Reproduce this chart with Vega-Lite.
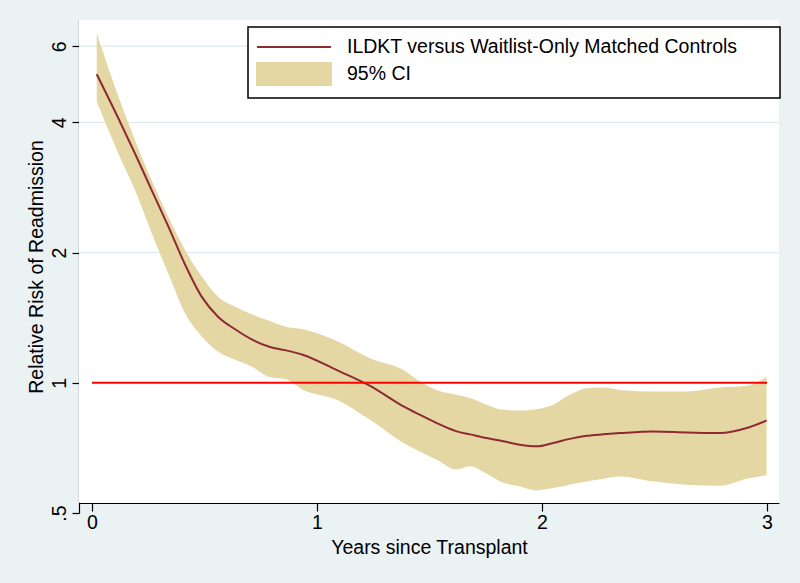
{
  "$schema": "https://vega.github.io/schema/vega-lite/v6.json",
  "width": 700,
  "height": 493,
  "autosize": "none",
  "padding": {"left": 79, "top": 20, "right": 21, "bottom": 70},
  "background": "#eaf2f3",
  "config": {
    "view": {"stroke": null, "fill": null},
    "font": "Liberation Sans",
    "axis": {
      "domainColor": "#000000",
      "domainWidth": 1.2,
      "tickColor": "#000000",
      "tickWidth": 1.2,
      "labelColor": "#000000",
      "titleColor": "#000000",
      "labelFont": "Liberation Sans",
      "titleFont": "Liberation Sans",
      "labelFontSize": 19.5,
      "titleFontSize": 19.5,
      "titleFontWeight": "normal",
      "grid": false,
      "labelFlush": false
    }
  },
  "datasets": {
    "curve": [
      {"t": 0.021, "est": 5.17, "lo": 4.47, "hi": 6.43},
      {"t": 0.117, "est": 4.09, "lo": 3.39, "hi": 4.59},
      {"t": 0.191, "est": 3.39, "lo": 2.79, "hi": 3.64},
      {"t": 0.265, "est": 2.79, "lo": 2.22, "hi": 2.94},
      {"t": 0.339, "est": 2.30, "lo": 1.79, "hi": 2.42},
      {"t": 0.413, "est": 1.88, "lo": 1.45, "hi": 2.03},
      {"t": 0.488, "est": 1.58, "lo": 1.28, "hi": 1.76},
      {"t": 0.561, "est": 1.42, "lo": 1.18, "hi": 1.58},
      {"t": 0.636, "est": 1.33, "lo": 1.13, "hi": 1.50},
      {"t": 0.710, "est": 1.26, "lo": 1.09, "hi": 1.44},
      {"t": 0.791, "est": 1.21, "lo": 1.03, "hi": 1.39},
      {"t": 0.858, "est": 1.19, "lo": 1.02, "hi": 1.35},
      {"t": 0.939, "est": 1.16, "lo": 0.963, "hi": 1.33},
      {"t": 1.088, "est": 1.07, "lo": 0.914, "hi": 1.25},
      {"t": 1.236, "est": 0.984, "lo": 0.821, "hi": 1.14},
      {"t": 1.384, "est": 0.882, "lo": 0.726, "hi": 1.07},
      {"t": 1.458, "est": 0.843, "lo": 0.693, "hi": 1.007},
      {"t": 1.532, "est": 0.807, "lo": 0.664, "hi": 0.963},
      {"t": 1.621, "est": 0.772, "lo": 0.630, "hi": 0.938},
      {"t": 1.680, "est": 0.760, "lo": 0.641, "hi": 0.922},
      {"t": 1.754, "est": 0.745, "lo": 0.616, "hi": 0.890},
      {"t": 1.828, "est": 0.733, "lo": 0.587, "hi": 0.866},
      {"t": 1.902, "est": 0.719, "lo": 0.576, "hi": 0.863},
      {"t": 1.976, "est": 0.713, "lo": 0.564, "hi": 0.869},
      {"t": 2.050, "est": 0.726, "lo": 0.571, "hi": 0.890},
      {"t": 2.124, "est": 0.742, "lo": 0.581, "hi": 0.938},
      {"t": 2.199, "est": 0.754, "lo": 0.591, "hi": 0.972},
      {"t": 2.272, "est": 0.760, "lo": 0.600, "hi": 0.975},
      {"t": 2.347, "est": 0.765, "lo": 0.607, "hi": 0.963},
      {"t": 2.495, "est": 0.772, "lo": 0.591, "hi": 0.955},
      {"t": 2.643, "est": 0.768, "lo": 0.581, "hi": 0.955},
      {"t": 2.791, "est": 0.765, "lo": 0.578, "hi": 0.975},
      {"t": 2.910, "est": 0.786, "lo": 0.600, "hi": 0.984},
      {"t": 2.998, "est": 0.818, "lo": 0.611, "hi": 1.031}
    ]
  },
  "layer": [
    {
      "data": {"values": [{"x0": -0.0578, "x1": 3.0533, "y0": 0.528, "y1": 6.9}]},
      "mark": {"type": "rect", "fill": "#ffffff"},
      "encoding": {
        "x": {
          "field": "x0", "type": "quantitative",
          "scale": {"domain": [-0.0578, 3.0533], "nice": false, "zero": false},
          "axis": {
            "title": "Years since Transplant",
            "values": [0, 1, 2, 3],
            "format": "d",
            "offset": -10,
            "tickSize": 8,
            "labelPadding": 2,
            "titlePadding": 7
          }
        },
        "x2": {"field": "x1"},
        "y": {
          "field": "y0", "type": "quantitative",
          "scale": {"type": "log", "domain": [0.5, 6.9], "nice": false},
          "axis": {
            "title": "Relative Risk of Readmission",
            "values": [0.5, 1, 2, 4, 6],
            "labelExpr": "datum.value == 0.5 ? '.5' : datum.label",
            "labelAngle": -90,
            "labelAlign": "center",
            "labelBaseline": "bottom",
            "tickSize": 7,
            "labelPadding": 3,
            "titlePadding": 3
          }
        },
        "y2": {"field": "y1"}
      }
    },
    {
      "data": {"values": [{"g": 2}, {"g": 4}, {"g": 6}]},
      "mark": {"type": "rule", "color": "#e2ecf0", "strokeWidth": 1.5},
      "encoding": {
        "y": {"field": "g", "type": "quantitative", "title": "Relative Risk of Readmission",
              "scale": {"type": "log", "domain": [0.5, 6.9], "nice": false}}
      }
    },
    {
      "data": {"name": "curve"},
      "mark": {"type": "area", "opacity": 1, "interpolate": "monotone"},
      "encoding": {
        "x": {"field": "t", "type": "quantitative", "title": "Years since Transplant",
              "scale": {"domain": [-0.0578, 3.0533], "nice": false, "zero": false}},
        "y": {"field": "lo", "type": "quantitative", "title": "Relative Risk of Readmission",
              "scale": {"type": "log", "domain": [0.5, 6.9], "nice": false}},
        "y2": {"field": "hi"},
        "color": {
          "datum": "95% CI",
          "scale": {
            "domain": ["ILDKT versus Waitlist-Only Matched Controls", "95% CI"],
            "range": ["#8e2a34", "#e4d7a4"]
          },
          "legend": {
            "title": "\u00a0",
            "titleOrient": "right",
            "titlePadding": 34,
            "titleFontSize": 19.5,
            "orient": "none",
            "legendX": 169,
            "legendY": 7,
            "fillColor": "#ffffff",
            "strokeColor": "#000000",
            "padding": 9,
            "cornerRadius": 0,
            "symbolSize": 400,
            "symbolStrokeWidth": 2,
            "labelFont": "Liberation Sans",
            "labelFontSize": 19.5,
            "labelColor": "#000000",
            "labelOffset": 68,
            "labelLimit": 600,
            "rowPadding": 2,
            "encoding": {
              "legend": {
                "strokeWidth": {"value": 1.5}
              },
              "symbols": {
                "shape": {"value": {"expr": "datum.value == '95% CI' ? 'M-1.1,-1.1H6.3V1.1H-1.1Z' : 'M-1.1,0H6.3'"}},
                "fill": {"value": {"expr": "datum.value == '95% CI' ? '#e4d7a4' : 'transparent'"}},
                "stroke": {"value": {"expr": "datum.value == '95% CI' ? 'transparent' : '#8e2a34'"}},
                "strokeWidth": {"value": 2},
                "opacity": {"value": 1}
              }
            }
          }
        }
      }
    },
    {
      "data": {"name": "curve"},
      "mark": {"type": "line", "strokeWidth": 2, "interpolate": "monotone"},
      "encoding": {
        "x": {"field": "t", "type": "quantitative", "title": "Years since Transplant",
              "scale": {"domain": [-0.0578, 3.0533], "nice": false, "zero": false}},
        "y": {"field": "est", "type": "quantitative", "title": "Relative Risk of Readmission",
              "scale": {"type": "log", "domain": [0.5, 6.9], "nice": false}},
        "color": {"datum": "ILDKT versus Waitlist-Only Matched Controls"}
      }
    },
    {
      "data": {"values": [{"a": 0, "b": 3, "r": 1}]},
      "mark": {"type": "rule", "color": "#ff0000", "strokeWidth": 2},
      "encoding": {
        "x": {"field": "a", "type": "quantitative", "title": "Years since Transplant",
              "scale": {"domain": [-0.0578, 3.0533], "nice": false, "zero": false}},
        "x2": {"field": "b"},
        "y": {"field": "r", "type": "quantitative", "title": "Relative Risk of Readmission",
              "scale": {"type": "log", "domain": [0.5, 6.9], "nice": false}}
      }
    }
  ]
}
